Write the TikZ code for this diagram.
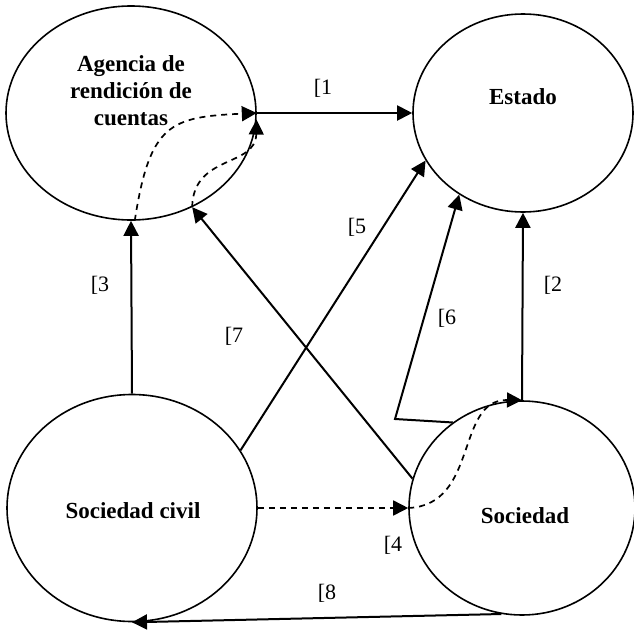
\documentclass[tikz,border=0pt]{standalone}
\usepackage{fontspec}
\setmainfont{Liberation Serif}
\usetikzlibrary{shapes.geometric, arrows.meta}

\begin{document}
\begin{tikzpicture}[x = 1pt, y = -1pt, > = {Triangle[length = 15pt, width = 15pt]},
	actor/.style = {draw, ellipse, line width = 1.6pt, inner sep = 0pt},
	actortext/.style = {align = center, font = \fontsize{23}{27}\selectfont\bfseries},
	tag/.style = {font = \fontsize{22}{26}\selectfont}]

	\useasboundingbox (0, 0) rectangle (634, 629);

	% The four actors

	\node [actor, minimum width = 250pt, minimum height = 214pt] (agencia) at (131, 113) {};
	\node [actor, minimum width = 220pt, minimum height = 198pt] (estado) at (523, 113) {};
	\node [actor, minimum width = 250pt, minimum height = 227pt] (civil) at (132, 508) {};
	\node [actor, minimum width = 226pt, minimum height = 214pt] (sociedad) at (522, 508) {};

	\node [actortext] (agenciatext) at (131, 91) {Agencia de\\rendición de\\cuentas};
	\node [actortext] (estadotext) at (523, 97) {Estado};
	\node [actortext] (civiltext) at (133, 511) {Sociedad civil};
	\node [actortext] (sociedadtext) at (525, 516) {Sociedad};

	% Bend of the link from Sociedad to Estado

	\coordinate (bend) at (395, 419);

	% Direct links

	\begin{scope}[->, line width = 2pt]

		\draw (agencia.east) -- (estado.west);
		\draw (sociedad.north) -- (estado.south);
		\draw (civil.north) -- (agencia.south);
		\draw (civil.28) -- (estado.206);
		\draw (sociedad.129) -- (bend) -- (estado.232);
		\draw (sociedad.165) -- (agencia.303);
		\draw (sociedad.259) -- (civil.south);

	\end{scope}

	% Indirect paths (dashed)

	\begin{scope}[->, line width = 1.7pt, dash pattern = on 6pt off 5pt]

		\draw (civil.east) -- (sociedad.west);
		\draw (sociedad.west) .. controls +(71, -3) and +(-67, -1) .. (sociedad.north);
		\draw (agencia.272) .. controls +(15, -98) and +(-86, 4) .. (agencia.east);
		\draw (agencia.303) .. controls +(1, -53) and +(-1, 48) .. (agencia.357);

	\end{scope}

	% Link numbers

	\node [tag] (n1) at (323, 88) {[1};
	\node [tag] (n2) at (553, 285) {[2};
	\node [tag] (n3) at (100, 285) {[3};
	\node [tag] (n4) at (393, 545) {[4};
	\node [tag] (n5) at (357, 227) {[5};
	\node [tag] (n6) at (447, 318) {[6};
	\node [tag] (n7) at (234, 336) {[7};
	\node [tag] (n8) at (327, 593) {[8};

\end{tikzpicture}
\end{document}
